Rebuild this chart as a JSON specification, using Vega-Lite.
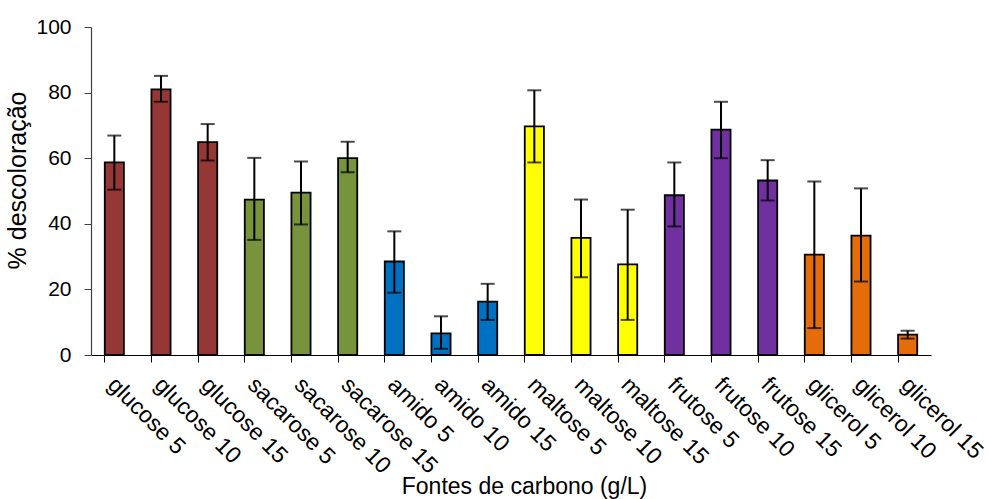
{
  "$schema": "https://vega.github.io/schema/vega-lite/v6.json",
  "width": 840,
  "height": 328,
  "autosize": "none",
  "padding": {"left": 91, "top": 27, "right": 58, "bottom": 144},
  "background": "white",
  "config": {
    "view": {"stroke": null},
    "font": "Liberation Sans",
    "axis": {"labelFont": "Liberation Sans", "titleFont": "Liberation Sans", "labelColor": "#000000", "titleColor": "#000000", "titleFontWeight": "normal", "grid": false}
  },
  "resolve": {"axis": {"x": "independent"}},
  "data": {
    "values": [
      {"label": "glucose 5", "group": "glucose", "value": 58.7, "lo": 50.4, "hi": 66.9},
      {"label": "glucose 10", "group": "glucose", "value": 81.0, "lo": 77.2, "hi": 85.1},
      {"label": "glucose 15", "group": "glucose", "value": 64.9, "lo": 59.3, "hi": 70.4},
      {"label": "sacarose 5", "group": "sacarose", "value": 47.4, "lo": 35.1, "hi": 60.1},
      {"label": "sacarose 10", "group": "sacarose", "value": 49.5, "lo": 39.8, "hi": 59.0},
      {"label": "sacarose 15", "group": "sacarose", "value": 60.0, "lo": 55.7, "hi": 65.0},
      {"label": "amido 5", "group": "amido", "value": 28.5, "lo": 19.0, "hi": 37.7},
      {"label": "amido 10", "group": "amido", "value": 6.6, "lo": 1.9, "hi": 11.8},
      {"label": "amido 15", "group": "amido", "value": 16.3, "lo": 10.7, "hi": 21.7},
      {"label": "maltose 5", "group": "maltose", "value": 69.7, "lo": 58.7, "hi": 80.7},
      {"label": "maltose 10", "group": "maltose", "value": 35.7, "lo": 23.7, "hi": 47.4},
      {"label": "maltose 15", "group": "maltose", "value": 27.6, "lo": 10.7, "hi": 44.3},
      {"label": "frutose 5", "group": "frutose", "value": 48.7, "lo": 39.2, "hi": 58.7},
      {"label": "frutose 10", "group": "frutose", "value": 68.7, "lo": 60.0, "hi": 77.2},
      {"label": "frutose 15", "group": "frutose", "value": 53.2, "lo": 47.1, "hi": 59.4},
      {"label": "glicerol 5", "group": "glicerol", "value": 30.6, "lo": 8.2, "hi": 52.9},
      {"label": "glicerol 10", "group": "glicerol", "value": 36.4, "lo": 22.4, "hi": 50.8},
      {"label": "glicerol 15", "group": "glicerol", "value": 6.2, "lo": 5.0, "hi": 7.4}
    ]
  },
  "layer": [
    {
      "mark": {"type": "bar", "stroke": "#000000", "strokeWidth": 1.8},
      "encoding": {
        "x": {
          "field": "label", "type": "nominal", "sort": null,
          "scale": {"paddingInner": 0.59, "paddingOuter": 0.295},
          "axis": {
            "orient": "bottom",
            "title": "Fontes de carbono (g/L)", "titleFontSize": 23,
            "titleX": 433, "titleY": 138, "titleBaseline": "alphabetic", "titleAnchor": "middle", "titleAlign": "center",
            "labelAngle": 45, "labelAlign": "left", "labelBaseline": "top",
            "labelFontSize": 23, "labelPadding": 18, "labelOffset": 5, "ticks": false, "domain": false,
            "labelOverlap": false, "labelBound": false
          }
        },
        "y": {
          "field": "value", "type": "quantitative",
          "scale": {"domain": [0, 100], "nice": false},
          "axis": {
            "title": "% descoloração", "titleFontSize": 25, "titlePadding": 5, "titleY": 153,
            "values": [0, 20, 40, 60, 80, 100], "labelFontSize": 21, "labelPadding": 13,
            "tickSize": 7, "tickColor": "#404040", "domainColor": "#404040", "tickWidth": 1, "domainWidth": 1.2
          }
        },
        "color": {
          "field": "group", "type": "nominal", "legend": null,
          "scale": {
            "domain": ["glucose", "sacarose", "amido", "maltose", "frutose", "glicerol"],
            "range": ["#953735", "#77933C", "#0070C0", "#FFFF00", "#7030A0", "#E46C0A"]
          }
        }
      }
    },
    {
      "mark": {"type": "rule", "color": "#000000", "strokeWidth": 2},
      "encoding": {
        "x": {
          "field": "label", "type": "nominal", "sort": null,
          "axis": {"orient": "bottom", "title": null, "labels": false, "ticks": true, "bandPosition": 0, "tickSize": 7, "tickColor": "#000000", "domain": true, "domainColor": "#000000", "domainWidth": 1.2}
        },
        "y": {"field": "lo", "type": "quantitative"},
        "y2": {"field": "hi"}
      }
    },
    {
      "mark": {"type": "tick", "color": "#000000", "size": 14, "thickness": 2, "orient": "horizontal"},
      "encoding": {
        "x": {"field": "label", "type": "nominal", "sort": null, "axis": null},
        "y": {"field": "lo", "type": "quantitative"}
      }
    },
    {
      "mark": {"type": "tick", "color": "#000000", "size": 14, "thickness": 2, "orient": "horizontal"},
      "encoding": {
        "x": {"field": "label", "type": "nominal", "sort": null, "axis": null},
        "y": {"field": "hi", "type": "quantitative"}
      }
    }
  ]
}
